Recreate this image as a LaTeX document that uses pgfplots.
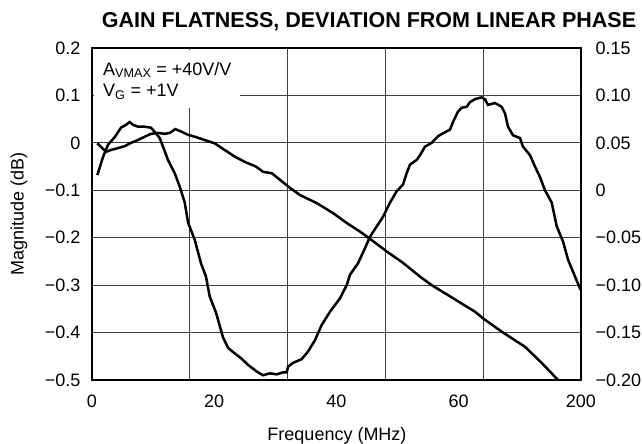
\documentclass[border=0pt]{standalone}
\usepackage{pgfplots}
\pgfplotsset{compat=1.18}
\usepackage{fontspec}
\setmainfont{Liberation Sans}
\usepackage{graphicx}

\pgfplotstableread{
x y
0.87 -0.001
2.29 -0.019
3.11 -0.015
4.25 -0.011
5.35 -0.007
6.38 0.000
7.52 0.006
8.62 0.013
9.65 0.019
10.80 0.021
11.89 0.019
12.71 0.021
13.63 0.029
14.56 0.024
15.71 0.017
16.80 0.013
18.44 0.006
20.07 -0.001
21.71 -0.015
23.35 -0.029
24.98 -0.040
26.83 -0.050
27.98 -0.061
29.40 -0.064
30.76 -0.078
32.39 -0.095
34.03 -0.110
36.76 -0.127
39.43 -0.148
41.67 -0.169
43.84 -0.187
45.76 -0.205
48.21 -0.229
50.88 -0.253
53.66 -0.282
55.57 -0.300
58.24 -0.321
62.65 -0.356
64.29 -0.373
67.02 -0.398
70.84 -0.430
73.57 -0.464
76.24 -0.500
}\magtable

\pgfplotstableread{
x y
0.87 0.016
1.80 0.035
2.62 0.048
3.71 0.056
4.74 0.066
5.56 0.069
6.17 0.072
6.71 0.069
7.53 0.067
8.62 0.067
9.65 0.066
10.47 0.060
11.08 0.055
11.62 0.046
12.43 0.032
13.53 0.018
14.35 0.004
15.17 -0.013
15.71 -0.034
16.80 -0.052
17.83 -0.077
18.65 -0.091
19.26 -0.112
20.29 -0.129
21.43 -0.155
22.25 -0.166
23.35 -0.172
24.38 -0.177
25.52 -0.184
26.94 -0.191
27.97 -0.195
29.12 -0.193
30.21 -0.194
31.24 -0.192
31.85 -0.192
32.07 -0.186
32.88 -0.182
34.31 -0.178
35.34 -0.170
36.48 -0.158
37.58 -0.142
38.94 -0.128
40.56 -0.114
41.67 -0.100
42.21 -0.089
43.52 -0.077
44.66 -0.061
45.48 -0.049
46.58 -0.038
47.61 -0.028
48.75 -0.013
49.85 -0.001
50.88 0.006
51.48 0.018
52.02 0.027
53.12 0.032
53.66 0.037
54.48 0.046
55.57 0.050
56.61 0.057
57.42 0.060
58.57 0.064
59.06 0.072
59.88 0.083
60.48 0.087
61.30 0.088
61.84 0.093
62.65 0.096
63.75 0.098
64.29 0.096
64.78 0.090
65.93 0.092
67.02 0.088
67.57 0.081
68.06 0.067
68.87 0.058
70.02 0.055
70.51 0.046
71.66 0.037
72.47 0.025
73.29 0.014
74.11 0.000
75.21 -0.013
76.03 -0.038
77.06 -0.054
77.87 -0.073
79.02 -0.091
79.95 -0.105
}\phasetable

\begin{document}
\begin{tikzpicture}[x=1pt,y=1pt]
\useasboundingbox (0,0) rectangle (642,444);
\begin{axis}[
  width=489pt, height=332pt, scale only axis,
  at={(92pt,64pt)}, anchor=south west,
  xmin=0, xmax=80, ymin=-0.5, ymax=0.2,
  xtick={0,20,40,60,80}, xticklabels={0,20,40,60,200},
  ytick={-0.5,-0.4,-0.3,-0.2,-0.1,0,0.1,0.2},
  yticklabels={−0.5,−0.4,−0.3,−0.2,−0.1,0,0.1,0.2},
  ytick pos=left, xtick pos=bottom,
  ymajorgrids,
  extra x ticks={16,32,48,64}, extra x tick labels={},
  extra x tick style={grid=major, major tick length=0pt},
  major tick length=0pt,
  axis line style={line width=2.5pt},
  grid style={line width=1pt, black!75},
  ticklabel style={font=\fontsize{18}{21}\selectfont},
  yticklabel style={xshift=-8pt},
  xticklabel style={yshift=-11pt},
]
\fill[white] (axis cs:0.25,0.0735) rectangle (axis cs:24.2,0.1968);
\addplot[line width=2.5pt, black] table[x=x,y=y] {\magtable};
\node[anchor=base west, font=\fontsize{18}{21}\selectfont, inner sep=0pt] at (axis cs:1.8,0.143) {A\textsubscript{VMAX} = +40V/V};
\node[anchor=base west, font=\fontsize{18}{21}\selectfont, inner sep=0pt] at (axis cs:1.8,0.0967) {V\textsubscript{G} = +1V};
\end{axis}
\begin{axis}[
  width=489pt, height=332pt, scale only axis,
  at={(92pt,64pt)}, anchor=south west,
  xmin=0, xmax=80, ymin=-0.2, ymax=0.15,
  axis x line=none, axis y line*=right,
  ytick={-0.2,-0.15,-0.1,-0.05,0,0.05,0.1,0.15},
  yticklabels={−0.20,−0.15,−0.10,−0.05,0,0.05,0.10,0.15},
  major tick length=0pt,
  y axis line style={line width=2.5pt},
  ticklabel style={font=\fontsize{18}{21}\selectfont},
  yticklabel style={xshift=11pt},
]
\addplot[line width=2.5pt, black] table[x=x,y=y] {\phasetable};
\end{axis}
\node[anchor=base, font=\bfseries\fontsize{21.5}{24}\selectfont, inner sep=0pt] at (369,416) {GAIN FLATNESS, DEVIATION FROM LINEAR PHASE};
\node[rotate=90, font=\fontsize{18}{21}\selectfont, inner sep=0pt] at (19,230) {Magnitude (dB)};
\node[font=\fontsize{18}{21}\selectfont, inner sep=0pt] at (337,8) {Frequency (MHz)};
\end{tikzpicture}
\end{document}
